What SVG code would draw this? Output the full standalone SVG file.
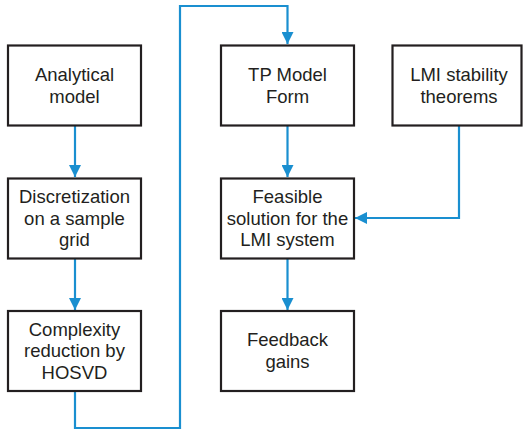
<svg xmlns="http://www.w3.org/2000/svg" width="523" height="437" viewBox="0 0 523 437">
<defs>
<style>
.box{fill:#fff;stroke:#231f20;stroke-width:2.2}
.lbl{font-family:"Liberation Sans",Arial,sans-serif;font-size:18.5px;fill:#231f20;text-anchor:middle}
.con{fill:none;stroke:#1a8fd0;stroke-width:2.2}
</style>
<marker id="ah" viewBox="0 0 12 12" refX="12" refY="6" markerWidth="12" markerHeight="12" markerUnits="userSpaceOnUse" orient="auto">
<path d="M0,0 L12,6 L0,12 Z" fill="#1a8fd0"/>
</marker>
</defs>
<rect width="523" height="437" fill="#fff"/>
<g id="connectors">
<path class="con" d="M75,126 V177" marker-end="url(#ah)"/>
<path class="con" d="M75,259 V310" marker-end="url(#ah)"/>
<path class="con" d="M75,392 V428 H180 V6 H287.5 V44" marker-end="url(#ah)"/>
<path class="con" d="M287.5,126 V177" marker-end="url(#ah)"/>
<path class="con" d="M459,126 V218 H355" marker-end="url(#ah)"/>
<path class="con" d="M287.5,259 V310" marker-end="url(#ah)"/>
</g>
<g id="analytical">
<rect class="box" x="8" y="45.5" width="133" height="80"/>
<text class="lbl" x="74.5" y="81">Analytical</text>
<text class="lbl" x="74.5" y="102.5">model</text>
</g>
<g id="discretization">
<rect class="box" x="8" y="178.5" width="133" height="80"/>
<text class="lbl" x="74.5" y="203">Discretization</text>
<text class="lbl" x="74.5" y="224.5">on a sample</text>
<text class="lbl" x="74.5" y="246">grid</text>
</g>
<g id="complexity">
<rect class="box" x="8" y="311" width="133" height="80"/>
<text class="lbl" x="74.5" y="335.5">Complexity</text>
<text class="lbl" x="74.5" y="357">reduction by</text>
<text class="lbl" x="74.5" y="378.5">HOSVD</text>
</g>
<g id="tpmodel">
<rect class="box" x="221" y="45.5" width="133" height="80"/>
<text class="lbl" x="287.5" y="81">TP Model</text>
<text class="lbl" x="287.5" y="102.5">Form</text>
</g>
<g id="lmistability">
<rect class="box" x="392.5" y="45.5" width="129" height="80"/>
<text class="lbl" x="459" y="81">LMI stability</text>
<text class="lbl" x="459" y="102.5">theorems</text>
</g>
<g id="feasible">
<rect class="box" x="221" y="178.5" width="133" height="80"/>
<text class="lbl" x="287.5" y="203">Feasible</text>
<text class="lbl" x="287.5" y="224.5">solution for the</text>
<text class="lbl" x="287.5" y="246">LMI system</text>
</g>
<g id="feedback">
<rect class="box" x="221" y="311" width="133" height="80"/>
<text class="lbl" x="287.5" y="346">Feedback</text>
<text class="lbl" x="287.5" y="367.5">gains</text>
</g>
</svg>
